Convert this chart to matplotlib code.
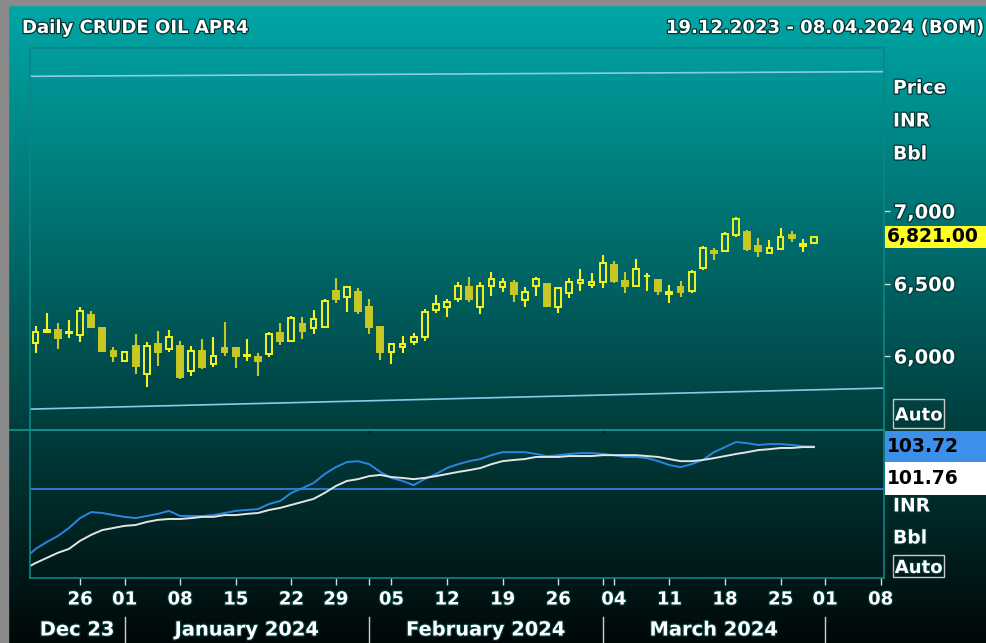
import numpy as np
import pandas as pd
import matplotlib
matplotlib.use("Agg")
import matplotlib.pyplot as plt
import matplotlib.patheffects as pe
import matplotlib.transforms as mtransforms
from matplotlib.patches import Rectangle
from matplotlib.lines import Line2D

# MCX trading days from 19.12.2023 (exchange holidays taken out)
holidays = ["2023-12-25", "2024-01-26", "2024-03-29"]
days = pd.bdate_range("2023-12-19", "2024-04-08").drop(pd.to_datetime(holidays))

# Daily OHLC, CRUDE OIL APR4 (INR/Bbl), 19.12.2023 - 28.03.2024
opens = [6088, 6163, 6179, 6157, 6145, 6285, 6191, 6037, 5966, 6071,
         5876, 6083, 6048, 6071, 5897, 6034, 5945, 6053, 6053, 6000,
         5995, 6014, 6161, 6106, 6219, 6195, 6202, 6448, 6405, 6439,
         6340, 6198, 6030, 6060, 6099, 6133, 6317, 6336, 6391, 6474,
         6336, 6483, 6474, 6506, 6386, 6483, 6495, 6336, 6432, 6501,
         6490, 6508, 6628, 6517, 6483, 6550, 6524, 6426, 6474, 6450,
         6605, 6726, 6724, 6835, 6857, 6761, 6708, 6738, 6835, 6761,
         6777]
highs = [6209, 6294, 6230, 6248, 6340, 6312, 6198, 6064, 6037, 6152,
         6094, 6172, 6179, 6103, 6071, 6115, 6133, 6237, 6064, 6115,
         6019, 6168, 6230, 6276, 6267, 6315, 6391, 6536, 6485, 6467,
         6391, 6198, 6092, 6140, 6161, 6322, 6421, 6391, 6512, 6543,
         6512, 6581, 6536, 6524, 6474, 6543, 6495, 6478, 6536, 6600,
         6570, 6697, 6657, 6581, 6667, 6570, 6524, 6490, 6517, 6593,
         6761, 6747, 6857, 6957, 6869, 6812, 6800, 6881, 6862, 6805,
         6828]
lows = [6019, 6157, 6048, 6126, 6094, 6191, 6030, 5961, 5961, 5874,
        5788, 5933, 6030, 5839, 5864, 5910, 5922, 6000, 5915, 5966,
        5864, 5991, 6076, 6106, 6115, 6152, 6198, 6363, 6306, 6290,
        6152, 5972, 5943, 6019, 6076, 6106, 6299, 6267, 6370, 6370,
        6290, 6414, 6439, 6370, 6336, 6414, 6336, 6299, 6402, 6450,
        6471, 6467, 6506, 6432, 6474, 6450, 6421, 6368, 6409, 6432,
        6593, 6662, 6715, 6823, 6726, 6681, 6701, 6738, 6784, 6715,
        6777]
closes = [6168, 6179, 6126, 6163, 6312, 6202, 6037, 6000, 6026, 5933,
          6071, 6030, 6129, 5857, 6034, 5922, 6002, 6030, 6002, 6007,
          5966, 6152, 6106, 6264, 6174, 6253, 6381, 6393, 6474, 6310,
          6202, 6030, 6083, 6081, 6129, 6301, 6359, 6370, 6485, 6391,
          6485, 6531, 6512, 6426, 6443, 6531, 6345, 6467, 6512, 6524,
          6512, 6639, 6517, 6483, 6600, 6555, 6450, 6443, 6443, 6581,
          6743, 6712, 6839, 6945, 6736, 6726, 6743, 6819, 6816, 6772,
          6821]
last_price = 6821.00

# indicator panel (one value per bar, starting the day before 19.12.2023)
blue_line = [66.7, 70.0, 72.3, 74.3, 77.0, 80.3, 82.3, 82.0, 81.3, 80.7,
             80.3, 81.0, 81.7, 82.7, 81.0, 81.0, 81.0, 81.3, 82.0, 82.7,
             83.0, 83.3, 85.0, 86.0, 88.7, 90.3, 92.0, 95.0, 97.3, 99.0,
             99.3, 98.3, 95.7, 93.7, 92.7, 91.3, 93.3, 95.0, 97.0, 98.3,
             99.3, 100.0, 101.3, 102.3, 102.3, 102.3, 101.7, 101.0, 101.3, 101.7,
             102.0, 102.0, 101.7, 101.3, 100.7, 100.7, 100.3, 99.3, 98.0, 97.3,
             98.3, 99.7, 102.3, 104.0, 105.7, 105.3, 104.7, 105.0, 105.0, 104.7,
             104.3, 104.2]
white_line = [63.3, 65.3, 67.0, 68.7, 70.0, 72.7, 74.7, 76.3, 77.0, 77.7,
              78.0, 79.0, 79.7, 80.0, 80.0, 80.3, 80.7, 80.7, 81.3, 81.3,
              81.7, 82.0, 83.0, 83.7, 84.7, 85.7, 86.7, 88.7, 91.0, 92.7,
              93.3, 94.3, 94.7, 94.0, 93.7, 93.3, 93.7, 94.3, 95.0, 95.7,
              96.3, 97.0, 98.3, 99.3, 99.7, 100.0, 100.7, 100.7, 100.7, 101.0,
              101.0, 101.0, 101.3, 101.3, 101.3, 101.3, 101.0, 100.7, 100.0, 99.3,
              99.3, 99.7, 100.3, 101.0, 101.7, 102.3, 103.0, 103.3, 103.7, 103.7,
              104.0, 104.0]
ind_level = 90
blue_last = "103.72"
white_last = "101.76"

# trend lines: value at left and right edge of the chart
upper_trend = [7929, 7961]
lower_trend = [5634, 5779]

day_ticks = ["2023-12-26", "2024-01-01", "2024-01-08", "2024-01-15", "2024-01-22",
             "2024-01-29", "2024-02-05", "2024-02-12", "2024-02-19", "2024-02-26",
             "2024-03-04", "2024-03-11", "2024-03-18", "2024-03-25", "2024-04-01",
             "2024-04-08"]
month_starts = ["2024-01-01", "2024-02-01", "2024-03-01", "2024-04-01"]
month_names = ["Dec 23", "January 2024", "February 2024", "March 2024"]

W, H = 987, 643


def fx(px):
    return px / W


def fy(py):
    return 1 - py / H


plt.rcParams["font.family"] = "DejaVu Sans"
plt.rcParams["font.weight"] = "bold"
shadow = [pe.withStroke(linewidth=1.8, foreground="#023434")]

fig = plt.figure(figsize=(W / 100, H / 100), dpi=100)

# background gradient
bg = fig.add_axes([0, 0, 1, 1], zorder=-5)
shade = np.linspace(168, 8, 256) / 255
grad = np.stack([np.zeros_like(shade), shade, shade], axis=-1)[:, None, :]
bg.imshow(grad, aspect="auto", extent=[0, 1, 0, 1], origin="upper")
bg.axis("off")

ax1 = fig.add_axes([fx(30), fy(430), fx(884) - fx(30), fy(48) - fy(430)])
ax2 = fig.add_axes([fx(30), fy(578), fx(884) - fx(30), fy(430) - fy(578)], sharex=ax1)
for ax in (ax1, ax2):
    ax.set_facecolor("none")
    for s in ax.spines.values():
        s.set_color("#0d8585")
        s.set_linewidth(1.2)

# candles
x = np.arange(len(opens))
o, h, l, c = (np.array(v, dtype=float) for v in (opens, highs, lows, closes))
up = c >= o
body_lo = np.minimum(o, c)
body_hi = np.maximum(o, c)
bright, olive = "#f4f41e", "#c8c824"
cols = [bright if u else olive for u in up]
faces = ["none" if u else olive for u in up]
ax1.vlines(x, l, body_lo, colors=cols, lw=1.5)
ax1.vlines(x, body_hi, h, colors=cols, lw=1.5)
ax1.bar(x, np.maximum(body_hi - body_lo, 4), bottom=body_lo, width=0.52,
        color=faces, edgecolor=cols, linewidth=1.4)

ax1.set_xlim(-0.5, 76.3)
ax1.set_ylim(5490, 8124)
x0, x1 = ax1.get_xlim()
ax1.plot([x0, x1], upper_trend, color="#8cc8ea", lw=1.2)
ax1.plot([x0, x1], lower_trend, color="#8cc8ea", lw=1.2)

ax1.yaxis.tick_right()
ax1.set_yticks([6000, 6500, 7000])
ax1.set_yticklabels(["6,000", "6,500", "7,000"])
ax1.tick_params(axis="y", colors="#d8d8d8", labelcolor="white", length=4, width=1,
                pad=3, labelsize=14)
ax1.tick_params(axis="x", bottom=False, labelbottom=False)
for t in ax1.get_yticklabels():
    t.set_path_effects(shadow)

# indicator panel
xi = np.arange(-1, len(blue_line) - 1)
ax2.axhline(ind_level, color="#2c80d8", lw=1.3)
ax2.plot(xi, blue_line, color="#2b86e0", lw=1.4)
ax2.plot(xi, white_line, color="#e4e4e4", lw=1.4)
ax2.set_ylim(60.3, 109.7)
ax2.set_yticks([])

day_x = [days.get_loc(pd.Timestamp(d)) for d in day_ticks]
month_x = [days.get_loc(pd.Timestamp(d)) for d in month_starts]
ax2.set_xticks(day_x)
ax2.set_xticklabels([pd.Timestamp(d).strftime("%d") for d in day_ticks])
ax2.set_xticks([m for m in month_x if m not in day_x], minor=True)
ax2.tick_params(axis="x", which="both", colors="#d8d8d8", labelcolor="white",
                length=5, width=1, pad=4, labelsize=13)
for t in ax2.get_xticklabels():
    t.set_path_effects(shadow)

# month row
trans = mtransforms.blended_transform_factory(ax2.transData, fig.transFigure)
for m in month_x:
    ax2.add_line(Line2D([m, m], [fy(617), fy(643)], transform=trans, clip_on=False,
                        color="#d0d0d0", lw=1))
bounds = [x0] + month_x
for name, a, b in zip(month_names, bounds[:-1], bounds[1:]):
    ax2.text((a + b) / 2, fy(630), name, transform=trans, ha="center", va="center",
             color="white", fontsize=14, path_effects=shadow)

# frame lines and window border
fig.add_artist(Line2D([fx(8), fx(884)], [fy(430), fy(430)], color="#168c8c", lw=1.3))
fig.add_artist(Rectangle((0, 0), fx(8), 1, transform=fig.transFigure,
                         color="#8a8a8a", zorder=5))
fig.add_artist(Rectangle((0, fy(5)), 1, 1 - fy(5), transform=fig.transFigure,
                         color="#8a8a8a", zorder=5))

# header
fig.text(fx(22), fy(28), "Daily CRUDE OIL APR4", color="white", fontsize=13,
         va="center", ha="left", path_effects=shadow)
fig.text(fx(983), fy(28), "19.12.2023 - 08.04.2024 (BOM)", color="white", fontsize=13,
         va="center", ha="right", path_effects=shadow)

# right side labels
for txt, py in [("Price", 88), ("INR", 121), ("Bbl", 154), ("INR", 506), ("Bbl", 538)]:
    fig.text(fx(893), fy(py), txt, color="white", fontsize=13.5, va="center", ha="left",
             path_effects=shadow)

# last price box
ptrans = mtransforms.blended_transform_factory(fig.transFigure, ax1.transData)
ax1.add_patch(Rectangle((fx(885), last_price - 78), fx(987) - fx(885), 156,
                        transform=ptrans, facecolor="#ffff26", edgecolor="none",
                        clip_on=False))
ax1.text(fx(887), last_price, f"{last_price:,.2f}", transform=ptrans, color="black",
         fontsize=13.5, va="center", ha="left", clip_on=False)

# indicator value boxes
for val, top, bot, col in [(blue_last, 431, 462, "#3d90ea"), (white_last, 462, 495, "white")]:
    fig.add_artist(Rectangle((fx(885), fy(bot)), fx(987) - fx(885), fy(top) - fy(bot),
                             transform=fig.transFigure, facecolor=col, edgecolor="none"))
    fig.text(fx(887), fy((top + bot) / 2), val, color="black", fontsize=13.5,
             va="center", ha="left")

# Auto buttons
for top, bot in [(399, 428), (555, 577)]:
    fig.add_artist(Rectangle((fx(893), fy(bot)), fx(944) - fx(893), fy(top) - fy(bot),
                             transform=fig.transFigure, facecolor="none",
                             edgecolor="#c8c8c8", lw=1))
    fig.text(fx(918.5), fy((top + bot) / 2 + 2), "Auto", color="white", fontsize=13,
             va="center", ha="center", path_effects=shadow)

fig.savefig("out.png", dpi=100)
